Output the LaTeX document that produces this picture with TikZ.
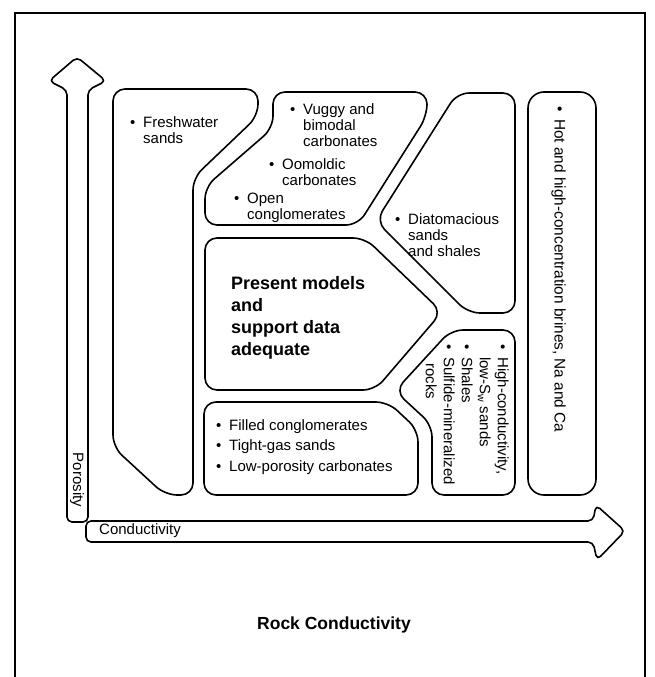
\documentclass[tikz,border=0pt]{standalone}
\usepackage{fontspec}
\setmainfont{Liberation Sans}
\newcommand{\bul}{\makebox[13pt][l]{\textbullet}}
\newcommand{\ind}{\hspace*{13pt}}
\begin{document}
\begin{tikzpicture}[x=1pt,y=-1pt,
  region/.style={draw=black, line width=1.6pt, rounded corners=12pt, line join=round},
  axisarrow/.style={draw=black, line width=1.6pt, rounded corners=5pt, line join=round},
  frameline/.style={draw=black, line width=1.8pt},
  lbl/.style={inner sep=0pt, align=left, font=\fontsize{15}{16}\selectfont, anchor=north west},
  rlbl/.style={inner sep=0pt, align=left, font=\fontsize{15}{18}\selectfont, anchor=north west, rotate=-90},
  bigl/.style={inner sep=0pt, align=left, font=\bfseries\fontsize{18}{22}\selectfont, anchor=north west},
  axlbl/.style={inner sep=0pt, font=\fontsize{15}{16}\selectfont}]
\useasboundingbox (0,0) rectangle (655,677);
% frame
\draw[frameline] (15,677) -- (15,13) -- (645,13) -- (645,677);
% axis arrows
\draw[axisarrow] (67,522) -- (67,90) -- (49,81) -- (77,57) -- (106,81) -- (88,90) -- (88,522) -- cycle;
\draw[axisarrow] (86,521) -- (593,521) -- (596,505) -- (625,531) -- (597,560) -- (593,542) -- (86,542) -- cycle;
\node[axlbl, rotate=-90] (por) at (77,480) {Porosity};
\node[axlbl, anchor=west] (cond) at (99,531) {Conductivity};
% regions
\draw[region] (113,89) -- (258,89) -- (258,116) -- (193,178) -- (193,495) -- (165,495) -- (113,447) -- cycle;
\draw[region] (273,92) -- (427,92) -- (427,116) -- (358,225) -- (205,225) -- (205,187) -- (273,128) -- cycle;
\draw[region] (457,93) -- (515,93) -- (515,313) -- (468,313) -- (376,221) -- cycle;
\draw[region] (205,238) -- (365,238) -- (442,312) -- (375,390) -- (205,390) -- cycle;
\draw[region] (204,402) -- (388,402) -- (418,430) -- (418,495) -- (204,495) -- cycle;
\draw[region] (451,330) -- (515,330) -- (515,495) -- (432,495) -- (432,425) -- (395,391) -- cycle;
\draw[region, rounded corners=16pt] (528,92) rectangle (596,495);
% texts
\node[lbl] (fresh) at (130,116) {\bul Freshwater\\\ind sands};
\node[lbl] (vug) at (290,103) {\bul Vuggy and\\\ind bimodal\\\ind carbonates};
\node[lbl] (oom) at (269,158) {\bul Oomoldic\\\ind carbonates};
\node[lbl] (open) at (234,193) {\bul Open\\\ind conglomerates};
\node[lbl] (diat) at (395,213) {\bul Diatomacious\\\ind sands\\\ind and shales};
\node[bigl] (pres) at (231,276) {Present models\\and\\support data\\adequate};
\node[lbl, font=\fontsize{15}{20.5}\selectfont] (fill) at (216,419) {\bul Filled conglomerates\\\bul Tight-gas sands\\\bul Low-porosity carbonates};
\node[rlbl] (high) at (509,344) {\bul High-conductivity,\\\ind low-S\textsubscript{w} sands\\\bul Shales\\\bul Sulfide-mineralized\\\hspace*{19pt}rocks};
\node[rlbl, font=\fontsize{15.4}{18}\selectfont] (hot) at (566,106) {\bul Hot and high-concentration brines, Na and Ca};
\node[inner sep=0pt, font=\bfseries\fontsize{17.5}{20}\selectfont] (title) at (334,625) {Rock Conductivity};
\end{tikzpicture}
\end{document}
